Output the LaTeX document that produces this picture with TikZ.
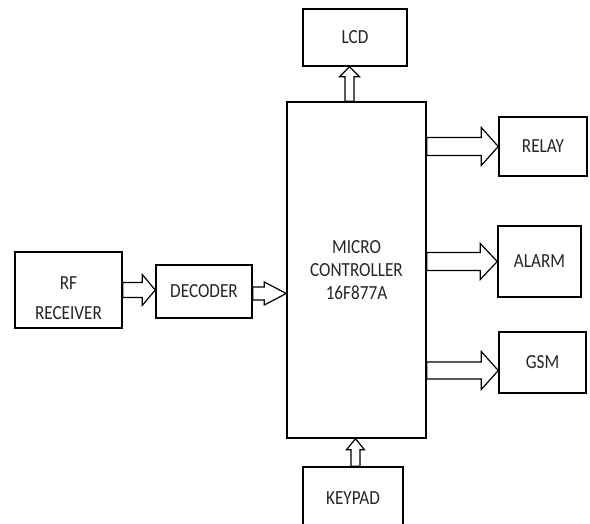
\documentclass[tikz,border=0pt]{standalone}
\usepackage{fontspec}
\setmainfont{Carlito}
\newfontfamily\blockfont[FakeStretch=0.86]{Carlito}
\usetikzlibrary{calc}

% hollow block arrows, right and up
\newcommand{\rblock}[5]{%
  \draw[blockarrow] let \p1=#1, \p2=#2 in
    (\x1,\y1+#3pt) -- (\x2-#5pt,\y1+#3pt) -- (\x2-#5pt,\y1+#4pt) -- (\x2,\y1)
    -- (\x2-#5pt,\y1-#4pt) -- (\x2-#5pt,\y1-#3pt) -- (\x1,\y1-#3pt) -- cycle;}
\newcommand{\ublock}[5]{%
  \draw[blockarrow] let \p1=#1, \p2=#2 in
    (\x1-#3pt,\y1) -- (\x1-#3pt,\y2-#5pt) -- (\x1-#4pt,\y2-#5pt) -- (\x1,\y2)
    -- (\x1+#4pt,\y2-#5pt) -- (\x1+#3pt,\y2-#5pt) -- (\x1+#3pt,\y1) -- cycle;}

\tikzset{
  block/.style={draw=black, line width=1.5pt, fill=white, align=center,
    inner sep=0pt, text=black!85, font=\blockfont\fontsize{20}{23}\selectfont},
  blockarrow/.style={draw=black, line width=1.2pt, fill=white, line join=miter}
}

\begin{document}
\begin{tikzpicture}[x=1pt, y=-1pt]
  \path[use as bounding box, clip] (0,0) rectangle (590,524);

  % blocks
  \node[block, minimum width=139pt, minimum height=336pt] (mcu) at (356.5,270) {MICRO\\CONTROLLER\\16F877A};
  \node[block, minimum width=104pt, minimum height=57pt] (lcd) at (355,37.5) {LCD};
  \node[block, minimum width=88pt, minimum height=59pt] (relay) at (543,146.5) {RELAY};
  \node[block, minimum width=83pt, minimum height=71pt] (alarm) at (539.5,261.5) {ALARM};
  \node[block, minimum width=87pt, minimum height=61pt] (gsm) at (542.5,362.5) {GSM};
  \node[block, minimum width=107pt, minimum height=76pt] (rf) at (68.5,290) {\mbox{}\\[6pt]RF\\[7pt]RECEIVER};
  \node[block, minimum width=96pt, minimum height=53pt] (dec) at (204,291.5) {DECODER};
  \node[block, minimum width=100pt, minimum height=62pt] (keypad) at (353,498) {KEYPAD};

  % connectors
  \rblock{(rf.east)}{(dec.west)}{7.5}{15.5}{13}
  \rblock{($(dec.east)+(0,2)$)}{(mcu.west)}{6.5}{11.5}{22}
  \rblock{(mcu.east |- relay)}{(relay.west)}{9}{19}{17}
  \rblock{(mcu.east |- alarm)}{(alarm.west)}{9}{18}{17}
  \rblock{($(mcu.east |- gsm)+(0,8)$)}{(gsm.west)}{8.5}{19}{17}
  \ublock{($(mcu.north)+(-7,0)$)}{(lcd.south)}{4.5}{10}{10}
  \ublock{($(keypad.north)+(2.5,0)$)}{(mcu.south)}{4.5}{9}{11}
\end{tikzpicture}
\end{document}
